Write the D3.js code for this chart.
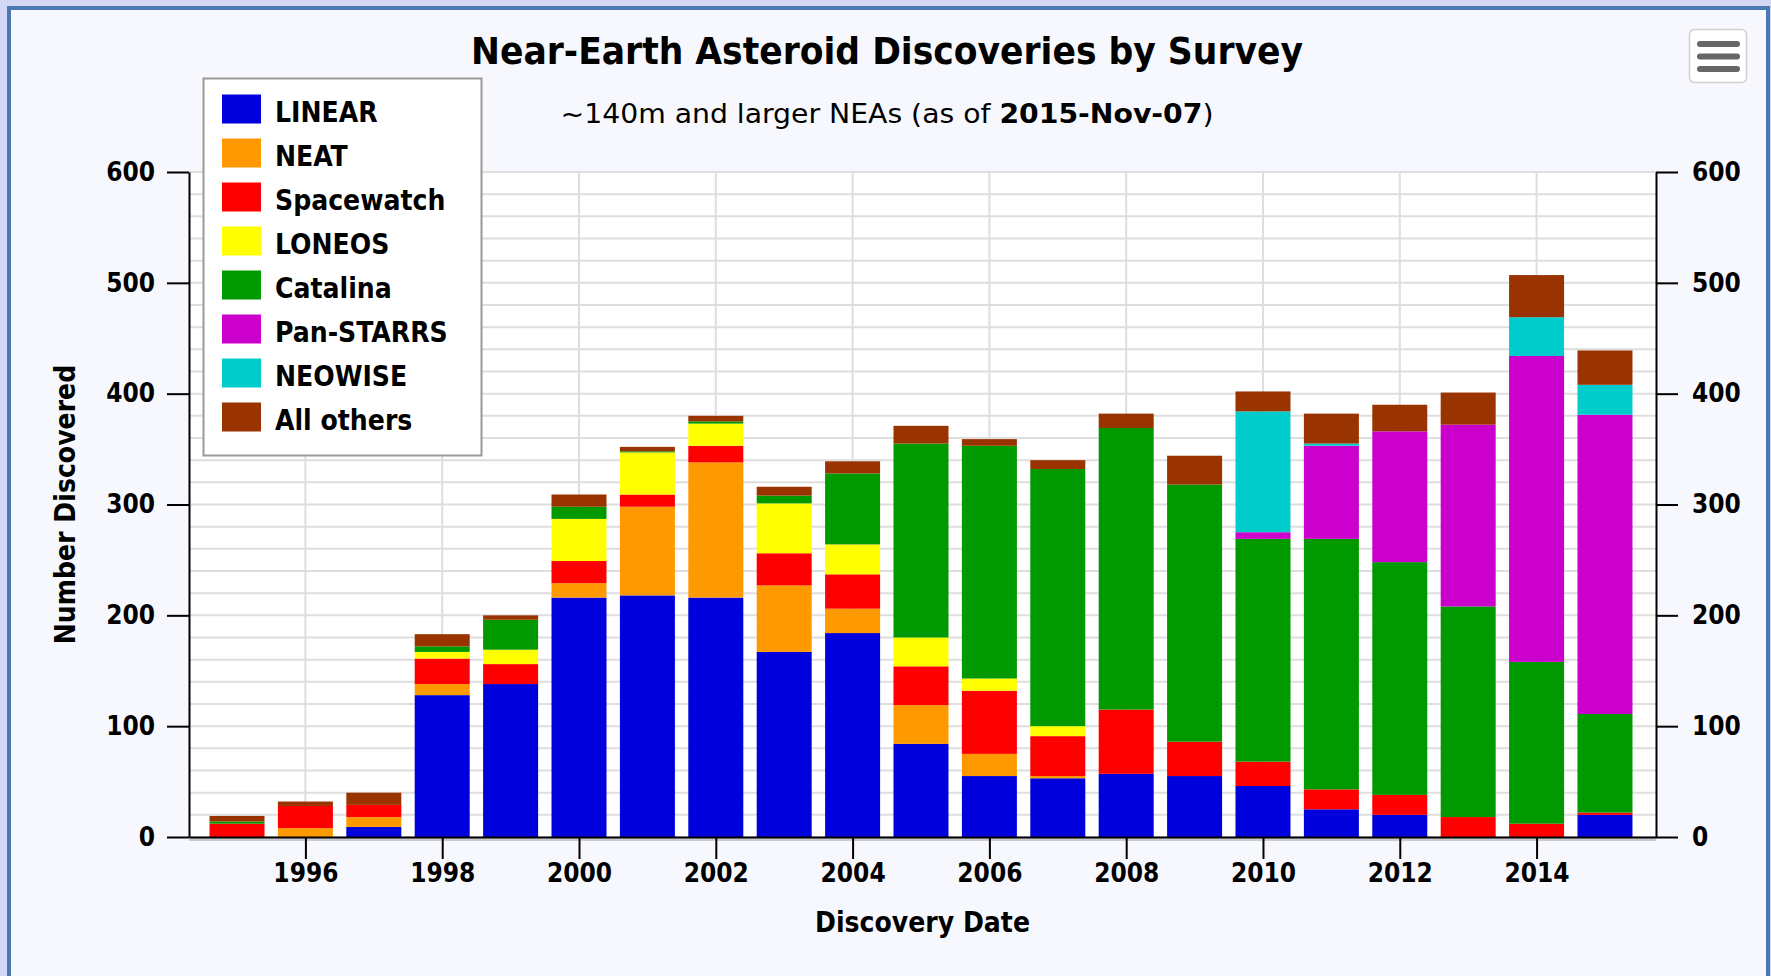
<!DOCTYPE html>
<html>
<head>
<meta charset="utf-8">
<script src="https://cdn.jsdelivr.net/npm/d3@7"></script>
<style>
  html, body { margin: 0; padding: 0; background: #d4d7f3; }
  svg { display: block; }
  text { font-family: 'DejaVu Sans Condensed', 'DejaVu Sans', sans-serif; font-stretch: condensed; }
</style>
</head>
<body>
<svg id="chart" width="1771" height="976"></svg>
<script>
// ---- data ----
const years = [1995,1996,1997,1998,1999,2000,2001,2002,2003,2004,2005,2006,2007,2008,2009,2010,2011,2012,2013,2014,2015];
const seriesNames = ["LINEAR","NEAT","Spacewatch","LONEOS","Catalina","Pan-STARRS","NEOWISE","All others"];
const seriesColors = ["#0000dd","#ff9900","#ff0000","#ffff00","#009900","#cc00cc","#00cccc","#993300"];
const LINEAR     = [0,0,9,128,138,216,218,216,167,184,84,55,53,57,55,46,25,20,0,0,20];
const NEAT       = [0,8,9,10,0,13,80,122,60,22,35,20,2,0,0,0,0,0,0,0,0];
const Spacewatch = [12,20,11,23,18,20,11,15,29,31,35,57,36,58,31,22,18,18,18,12,2];
const LONEOS     = [0,0,0,6,13,38,38,20,45,27,26,11,9,0,0,0,0,0,0,0,0];
const Catalina   = [2,0,0,5,27,11,1,2,7,64,175,210,232,254,232,201,226,210,190,146,89];
const PanSTARRS  = [0,0,0,0,0,0,0,0,0,0,0,0,0,0,0,6,84,118,164,276,270];
const NEOWISE    = [0,0,0,0,0,0,0,0,0,0,0,0,0,0,0,109,2,0,0,35,27];
const AllOthers  = [5,4,11,11,4,11,4,5,8,11,16,6,8,13,26,18,27,24,29,38,31];
const yTicks = [0,100,200,300,400,500,600];
const xTicks = [1996,1998,2000,2002,2004,2006,2008,2010,2012,2014];
const titleText = "Near-Earth Asteroid Discoveries by Survey";
const subtitlePre = "~140m and larger NEAs (as of ";
const subtitleDate = "2015-Nov-07";
const subtitlePost = ")";
const xTitle = "Discovery Date";
const yTitle = "Number Discovered";

const seriesValues = [LINEAR, NEAT, Spacewatch, LONEOS, Catalina, PanSTARRS, NEOWISE, AllOthers];

// ---- layout ----
const svg = d3.select("#chart");
const L = 189, R = 1656, T = 172, B = 837;
const x = d3.scaleLinear().domain([1994.298, 2015.746]).range([L, R]);
const y = d3.scaleLinear().domain([0, 600]).range([B, T]);
const barW = 55;

// frame
svg.append("rect").attr("x", 9).attr("y", 8).attr("width", 1759).attr("height", 1000)
  .attr("fill", "#f7f8fe").attr("stroke", "#4a78b0").attr("stroke-width", 4);

// plot background
svg.append("rect").attr("x", L).attr("y", T).attr("width", R - L).attr("height", B - T).attr("fill", "#ffffff");

// grid
const grid = svg.append("g");
grid.selectAll("line.h").data(d3.range(0, 601, 20)).join("line")
  .attr("x1", L).attr("x2", R).attr("y1", d => y(d)).attr("y2", d => y(d))
  .attr("stroke", "#dedede").attr("stroke-width", 2);
grid.selectAll("line.v").data(xTicks).join("line")
  .attr("x1", d => x(d)).attr("x2", d => x(d)).attr("y1", T).attr("y2", B)
  .attr("stroke", "#dedede").attr("stroke-width", 2);

// stacked bars
const table = years.map((yr, i) => {
  const o = { year: yr };
  seriesNames.forEach((n, k) => o[n] = seriesValues[k][i]);
  return o;
});
const stack = d3.stack().keys(seriesNames)(table);
svg.append("g").selectAll("g").data(stack).join("g")
  .attr("fill", (d, k) => seriesColors[k])
  .selectAll("rect").data(d => d).join("rect")
  .attr("x", d => x(d.data.year) - barW / 2)
  .attr("width", barW)
  .attr("y", d => y(d[1]))
  .attr("height", d => Math.max(0, y(d[0]) - y(d[1])));

// axes
const FS = 26;
function styleAxis(g) {
  g.selectAll(".domain").attr("stroke", "#000").attr("stroke-width", 2);
  g.selectAll(".tick line").attr("stroke", "#000").attr("stroke-width", 2);
  g.selectAll(".tick text").attr("fill", "#000").style("font-size", FS + "px").style("font-weight", "bold")
    .style("font-family", "'DejaVu Sans Condensed', 'DejaVu Sans', sans-serif");
}
// x-axis shadow
svg.append("line").attr("x1", L).attr("x2", R).attr("y1", B + 2.5).attr("y2", B + 2.5)
  .attr("stroke", "rgba(0,0,0,0.18)").attr("stroke-width", 3);

svg.append("g").attr("transform", `translate(0,${B})`)
  .call(d3.axisBottom(x).tickValues(xTicks).tickFormat(d => d).tickSize(22).tickSizeOuter(0).tickPadding(5))
  .call(styleAxis);
svg.append("g").attr("transform", `translate(${L},0)`)
  .call(d3.axisLeft(y).tickValues(yTicks).tickSize(22).tickSizeOuter(0).tickPadding(12))
  .call(styleAxis);
svg.append("g").attr("transform", `translate(${R},0)`)
  .call(d3.axisRight(y).tickValues(yTicks).tickSize(22).tickSizeOuter(0).tickPadding(14))
  .call(styleAxis);

// titles
svg.append("text").attr("x", 887).attr("y", 64).attr("text-anchor", "middle")
  .style("font-size", "38px").style("font-weight", "bold").attr("fill", "#000")
  .attr("textLength", 832).attr("lengthAdjust", "spacingAndGlyphs")
  .text(titleText);
const sub = svg.append("text").attr("x", 887).attr("y", 123).attr("text-anchor", "middle")
  .style("font-size", "26px").attr("fill", "#000")
  .attr("textLength", 653).attr("lengthAdjust", "spacingAndGlyphs");
sub.append("tspan").text(subtitlePre);
sub.append("tspan").style("font-weight", "bold").text(subtitleDate);
sub.append("tspan").text(subtitlePost);

svg.append("text").attr("x", (L + R) / 2).attr("y", 932).attr("text-anchor", "middle")
  .style("font-size", "28px").style("font-weight", "bold").attr("fill", "#000").text(xTitle);
svg.append("text").attr("transform", `translate(75,${(T + B) / 2}) rotate(-90)`).attr("text-anchor", "middle")
  .style("font-size", "28px").style("font-weight", "bold").attr("fill", "#000").text(yTitle);

// legend
const lg = svg.append("g");
lg.append("rect").attr("x", 203.5).attr("y", 78.5).attr("width", 278).attr("height", 377)
  .attr("fill", "#ffffff").attr("stroke", "#999999").attr("stroke-width", 2);
const items = lg.selectAll("g.item").data(seriesNames).join("g")
  .attr("transform", (d, i) => `translate(0,${44 * i})`);
items.append("rect").attr("x", 222).attr("y", 94.5).attr("width", 39).attr("height", 29)
  .attr("fill", (d, i) => seriesColors[i]);
items.append("text").attr("x", 275).attr("y", 121.5)
  .style("font-size", "28px").style("font-weight", "bold").attr("fill", "#000").text(d => d);

// menu button
const mb = svg.append("g");
mb.append("rect").attr("x", 1689.5).attr("y", 29.5).attr("width", 57).attr("height", 53).attr("rx", 5)
  .attr("fill", "#ffffff").attr("stroke", "#d0d0d0").attr("stroke-width", 1.5);
mb.selectAll("line").data([44, 56.5, 69]).join("line")
  .attr("x1", 1700).attr("x2", 1737).attr("y1", d => d).attr("y2", d => d)
  .attr("stroke", "#666666").attr("stroke-width", 6).attr("stroke-linecap", "round");
</script>
</body>
</html>
